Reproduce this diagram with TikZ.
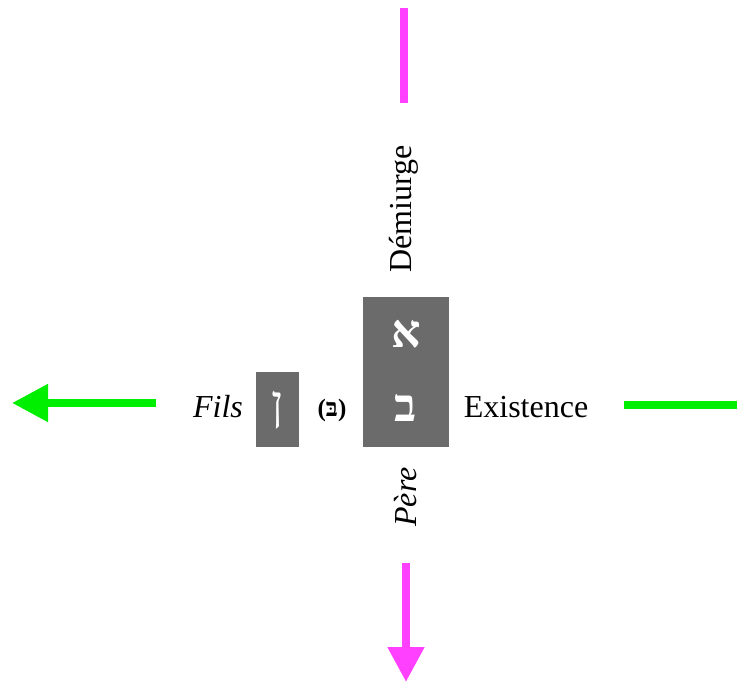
\documentclass[tikz,border=0pt]{standalone}
\usepackage{fontspec}
\setmainfont{Liberation Serif}
\newfontfamily\hebfont[Script=Hebrew]{Liberation Serif}
\usetikzlibrary{arrows.meta}
\TeXXeTstate=1
\definecolor{mag}{RGB}{255,64,255}
\definecolor{grn}{RGB}{0,238,0}
\definecolor{boxgray}{RGB}{107,107,107}
\tikzset{
  lbl/.style={inner sep=0pt, font=\fontsize{32}{36}\selectfont},
  heb/.style={inner sep=0pt, text=white, font=\hebfont\bfseries\fontsize{46}{50}\selectfont},
  magline/.style={draw=mag, line width=8pt},
  grnline/.style={draw=grn, line width=8pt},
  bigtip/.style={-{Triangle[length=36pt,width=36pt]}}
}
\begin{document}
\begin{tikzpicture}[x=1pt,y=-1pt]
\useasboundingbox (0,0) rectangle (737,682);
% boxes
\fill[boxgray] (363,297) rectangle (449,447);
\fill[boxgray] (256,372) rectangle (299,447);
\node[heb] (aleph) at (406,334) {\beginR א\endR};
\node[heb] (bet) at (406,408) {\beginR ב\endR};
\node[heb, font=\hebfont\fontsize{48}{52}\selectfont] (nun) at (278,410) {\beginR ן\endR};
\node[inner sep=0pt, font=\bfseries\fontsize{25}{28}\selectfont] (betd) at (332,410) {({\hebfont\beginR בּ\endR})};
% labels
\node[lbl, font=\itshape\fontsize{32}{36}\selectfont] (fils) at (218,407) {Fils};
\node[lbl] (exist) at (526,407) {Existence};
\node[lbl, rotate=90] (demi) at (404,209) {Démiurge};
\node[lbl, rotate=90, font=\itshape\fontsize{32}{36}\selectfont] (pere) at (406,497) {Père};
% connectors
\coordinate (mtop1) at (404,8);
\coordinate (mtop2) at (404,103);
\draw[magline] (mtop1) -- (mtop2);
\coordinate (mbot1) at (406,563);
\coordinate (mbot2) at (406,682);
\draw[magline, -{Triangle[length=35pt,width=35pt]}] (mbot1) -- (mbot2);
\coordinate (gl1) at (156,403);
\coordinate (gl2) at (12,403);
\draw[grnline, bigtip] (gl1) -- (gl2);
\coordinate (gr1) at (624,405);
\coordinate (gr2) at (737,405);
\draw[grnline] (gr1) -- (gr2);
\end{tikzpicture}
\end{document}
